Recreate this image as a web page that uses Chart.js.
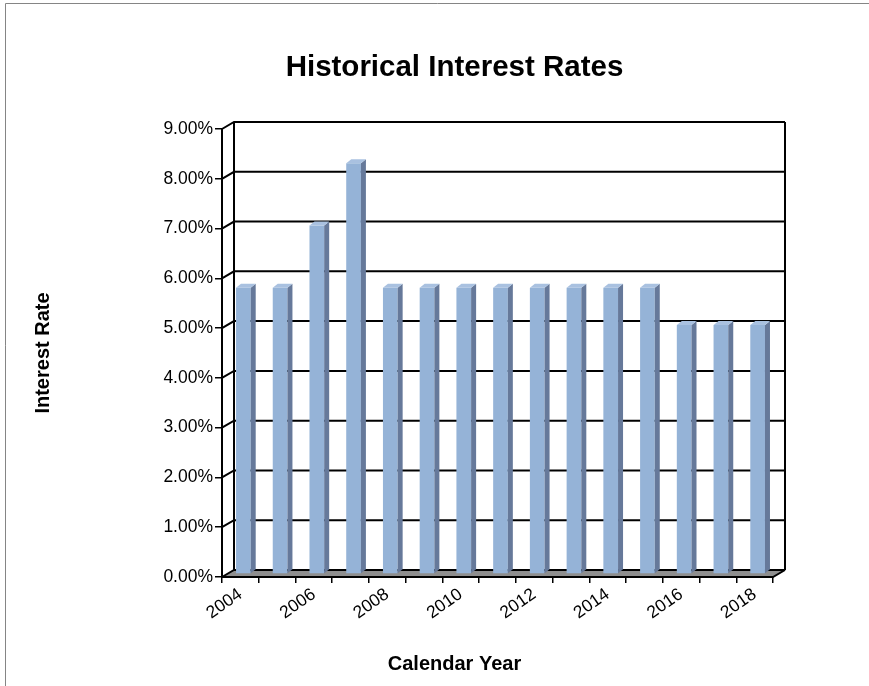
<!DOCTYPE html>
<html>
<head>
<meta charset="utf-8">
<style>
html,body{margin:0;padding:0;background:#fff;overflow:hidden}
#wrap{width:869px;height:686px;position:relative}
</style>
<script src="https://cdn.jsdelivr.net/npm/chart.js@4.4.1/dist/chart.umd.min.js"></script>
</head>
<body>
<div id="wrap"><canvas id="c" width="869" height="686"></canvas></div>
<script>
// ---- data ----
const years = ['2004','2005','2006','2007','2008','2009','2010','2011','2012','2013','2014','2015','2016','2017','2018'];
const rates = [5.75, 5.75, 7.00, 8.25, 5.75, 5.75, 5.75, 5.75, 5.75, 5.75, 5.75, 5.75, 5.00, 5.00, 5.00];
const rateTickValues = [0, 1, 2, 3, 4, 5, 6, 7, 8, 9];
const yearLabelStep = 2;
const chartTitle = 'Historical Interest Rates';
const xTitle = 'Calendar Year';
const yTitle = 'Interest Rate';

// ---- style ----
const FONT = "'Liberation Sans', Arial, sans-serif";
const WALL = {dx: 12, dy: -7};
const BAR_SHIFT = {dx: 3, dy: -3};
const BAR_SIDE = {dx: 5, dy: -4};
const FRONT = '#95B3D7', SIDE = '#66799A', TOP = '#A9C1E0';

const excel3d = {
  id: 'excel3d',
  beforeDraw(chart) {
    const ctx = chart.ctx;
    ctx.save();
    ctx.strokeStyle = '#858585';
    ctx.lineWidth = 1;
    ctx.beginPath();
    ctx.moveTo(5.5, 700); ctx.lineTo(5.5, 3.5); ctx.lineTo(900, 3.5);
    ctx.stroke();
    ctx.restore();
  },
  beforeDatasetsDraw(chart) {
    const {ctx, chartArea: a, scales: {y}} = chart;
    ctx.save();
    // floor
    ctx.fillStyle = '#8E8E8E';
    ctx.beginPath();
    ctx.moveTo(a.left, a.bottom); ctx.lineTo(a.right, a.bottom);
    ctx.lineTo(a.right + WALL.dx, a.bottom + WALL.dy);
    ctx.lineTo(a.left + WALL.dx, a.bottom + WALL.dy);
    ctx.closePath(); ctx.fill();
    ctx.strokeStyle = '#000';
    ctx.lineWidth = 2;
    ctx.lineJoin = 'miter';
    // gridlines on side wall and back wall
    rateTickValues.forEach(v => {
      const yy = y.getPixelForValue(v);
      ctx.beginPath();
      ctx.moveTo(a.left, yy);
      ctx.lineTo(a.left + WALL.dx, yy + WALL.dy);
      ctx.lineTo(a.right + WALL.dx, yy + WALL.dy);
      ctx.stroke();
    });
    // back wall verticals
    ctx.beginPath();
    ctx.moveTo(a.left + WALL.dx, a.top + WALL.dy); ctx.lineTo(a.left + WALL.dx, a.bottom + WALL.dy);
    ctx.moveTo(a.right + WALL.dx, a.top + WALL.dy); ctx.lineTo(a.right + WALL.dx, a.bottom + WALL.dy);
    ctx.stroke();
    // floor right edge and front axes
    ctx.beginPath();
    ctx.moveTo(a.right + WALL.dx, a.bottom + WALL.dy); ctx.lineTo(a.right, a.bottom);
    ctx.lineTo(a.left, a.bottom); ctx.lineTo(a.left, a.top);
    ctx.stroke();
    ctx.restore();
    ctx.save();
    ctx.translate(BAR_SHIFT.dx, BAR_SHIFT.dy);
  },
  afterDatasetsDraw(chart) {
    const ctx = chart.ctx;
    const meta = chart.getDatasetMeta(0);
    meta.data.forEach(el => {
      const {x, y, base, width} = el.getProps(['x', 'y', 'base', 'width'], true);
      const l = x - width / 2, r = x + width / 2;
      ctx.fillStyle = SIDE;
      ctx.beginPath();
      ctx.moveTo(r, y); ctx.lineTo(r + BAR_SIDE.dx, y + BAR_SIDE.dy);
      ctx.lineTo(r + BAR_SIDE.dx, base + BAR_SIDE.dy); ctx.lineTo(r, base);
      ctx.closePath(); ctx.fill();
      ctx.fillStyle = TOP;
      ctx.beginPath();
      ctx.moveTo(l, y); ctx.lineTo(l + BAR_SIDE.dx, y + BAR_SIDE.dy);
      ctx.lineTo(r + BAR_SIDE.dx, y + BAR_SIDE.dy); ctx.lineTo(r, y);
      ctx.closePath(); ctx.fill();
    });
    ctx.restore();
  }
};

new Chart(document.getElementById('c'), {
  type: 'bar',
  data: {
    labels: years,
    datasets: [{
      data: rates,
      backgroundColor: FRONT,
      borderWidth: 0,
      barPercentage: 0.4,
      categoryPercentage: 1,
      clip: false
    }]
  },
  plugins: [excel3d],
  options: {
    responsive: false,
    animation: false,
    events: [],
    layout: {padding: {left: 40, right: 0, top: 0, bottom: 10}},
    plugins: {
      legend: {display: false},
      tooltip: {enabled: false},
      title: {
        display: true, text: chartTitle, color: '#000',
        font: {family: FONT, size: 29.5, weight: 'bold'},
        padding: {top: 50, bottom: 43.6}
      },
      subtitle: {
        display: true, text: xTitle, position: 'bottom', color: '#000',
        font: {family: FONT, size: 20, weight: 'bold'},
        padding: {top: 0, bottom: 0}
      }
    },
    scales: {
      x: {
        grid: {offset: true, drawOnChartArea: false, drawTicks: true, tickLength: 6, color: '#000', lineWidth: 1.5},
        border: {display: false},
        ticks: {
          autoSkip: false, maxRotation: 35, minRotation: 35, padding: 1,
          color: '#000', font: {family: FONT, size: 17.5},
          callback: (v, i) => (i % yearLabelStep === 0 ? years[i] : '')
        },
        afterFit(s) { s.height = 75; }
      },
      y: {
        min: 0, max: 9,
        grid: {drawOnChartArea: false, drawTicks: true, tickLength: 7, color: '#000', lineWidth: 1.5},
        border: {display: false},
        ticks: {
          stepSize: 1, padding: 2, color: '#000', font: {family: FONT, size: 17.5},
          callback: v => v.toFixed(2) + '%'
        },
        title: {
          display: true, text: yTitle, color: '#000',
          font: {family: FONT, size: 20, weight: 'bold'},
          padding: {top: -9, bottom: 0}
        },
        afterFit(s) { s.width = 182; }
      },
      y2: {
        position: 'right', display: true,
        grid: {display: false}, border: {display: false},
        ticks: {display: false},
        afterFit(s) { s.width = 96; }
      }
    }
  }
});
</script>
</body>
</html>
